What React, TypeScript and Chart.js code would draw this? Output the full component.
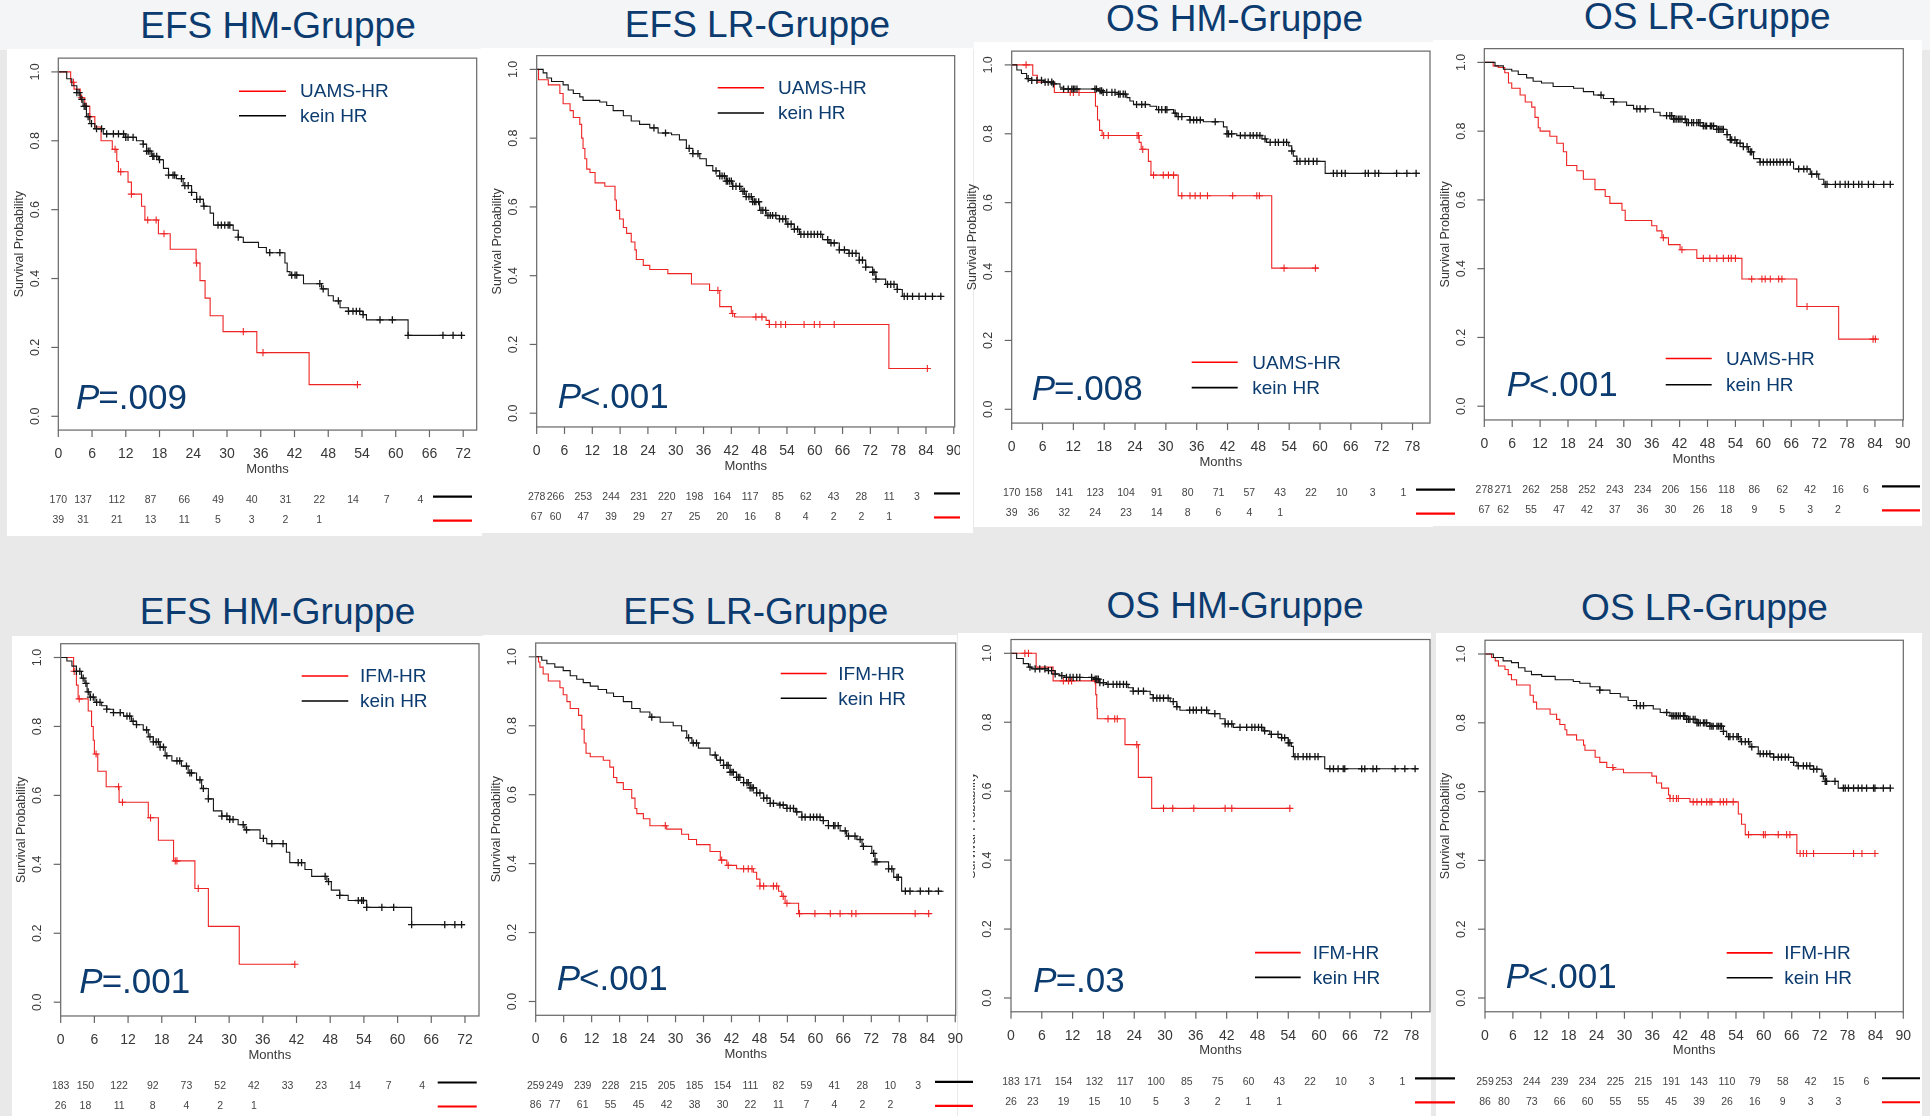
import React, { useEffect, useRef } from "react";
import { Chart, registerables } from "chart.js";
Chart.register(...registerables);

const FONT = '"Liberation Sans", Arial, Helvetica, sans-serif';
const BLUE = "#0b3b6f";
const RED = "#ee2424";
const BLACK = "#141414";

// ---------- shared labels ----------
const titles = ["EFS HM-Gruppe", "EFS LR-Gruppe", "OS HM-Gruppe", "OS LR-Gruppe", "EFS HM-Gruppe", "EFS LR-Gruppe", "OS HM-Gruppe", "OS LR-Gruppe"];
const pLabels = ["=.009", "<.001", "=.008", "<.001", "=.001", "<.001", "=.03", "<.001"];
const hrLabels = ["UAMS-HR", "UAMS-HR", "UAMS-HR", "UAMS-HR", "IFM-HR", "IFM-HR", "IFM-HR", "IFM-HR"];
const noHrLabel = "kein HR";
const xAxisTitle = "Months";
const yAxisTitle = "Survival Probability";
const yTicks = [0, 0.2, 0.4, 0.6, 0.8, 1.0];
const yTickLabels = ["0.0", "0.2", "0.4", "0.6", "0.8", "1.0"];
const xTicks72 = [0, 6, 12, 18, 24, 30, 36, 42, 48, 54, 60, 66, 72];
const xTicks78 = [0, 6, 12, 18, 24, 30, 36, 42, 48, 54, 60, 66, 72, 78];
const xTicks90 = [0, 6, 12, 18, 24, 30, 36, 42, 48, 54, 60, 66, 72, 78, 84, 90];

// ---------- Panel 1: EFS HM, UAMS ----------
const p1RedT = [0, 2.2, 2.8, 3.9, 4.7, 5.6, 6.5, 7.6, 9.6, 10.4, 10.7, 12.4, 13.0, 14.8, 15.4, 17.8, 19.9, 24.5, 25.2, 26.1, 27.0, 29.3, 35.3, 44.6, 53.2];
const p1RedS = [1, 0.97, 0.95, 0.925, 0.9, 0.87, 0.84, 0.8, 0.775, 0.74, 0.71, 0.68, 0.645, 0.61, 0.57, 0.53, 0.485, 0.445, 0.394, 0.343, 0.292, 0.246, 0.185, 0.092, 0.092];
const p1RedC = [2.7, 4.1, 5.0, 5.6, 10.1, 11.1, 13.0, 15.9, 17.4, 18.8, 24.6, 32.9, 36.4, 53.2];
const p1BlackT = [0, 1.5, 2.4, 3.3, 3.9, 4.4, 5.0, 5.6, 6.5, 8.0, 11.9, 13.9, 15.1, 15.7, 16.6, 17.8, 18.7, 19.6, 21.0, 22.2, 23.7, 24.6, 25.8, 27.0, 27.6, 31.1, 32.0, 32.9, 35.6, 37.0, 40.3, 40.7, 41.2, 43.6, 46.8, 48.0, 48.9, 50.1, 51.6, 54.2, 54.8, 62.2, 72.0];
const p1BlackS = [1, 0.98, 0.96, 0.94, 0.92, 0.9, 0.87, 0.85, 0.835, 0.82, 0.81, 0.8, 0.79, 0.77, 0.755, 0.745, 0.72, 0.7, 0.69, 0.67, 0.65, 0.63, 0.61, 0.59, 0.555, 0.54, 0.52, 0.505, 0.49, 0.475, 0.445, 0.42, 0.41, 0.385, 0.37, 0.35, 0.335, 0.315, 0.305, 0.295, 0.28, 0.235, 0.235];
const p1BlackC = [3.3, 3.7, 4.2, 4.6, 4.9, 5.3, 5.9, 6.8, 7.7, 8.6, 9.8, 10.7, 11.6, 12.0, 12.4, 13.3, 15.1, 15.7, 16.0, 16.3, 16.8, 17.0, 17.5, 18.0, 19.6, 20.4, 20.7, 21.9, 22.5, 23.1, 23.7, 24.6, 25.2, 25.9, 28.4, 29.0, 29.6, 30.2, 30.5, 32.0, 37.6, 39.4, 41.5, 42.1, 42.4, 46.5, 47.1, 49.8, 51.6, 52.4, 53.0, 53.6, 54.2, 57.2, 59.4, 62.2, 68.4, 70.2, 71.7];
const p1RiskBlack = [170, 137, 112, 87, 66, 49, 40, 31, 22, 14, 7, 4];
const p1RiskRed = [39, 31, 21, 13, 11, 5, 3, 2, 1];

// ---------- Panel 2: EFS LR, UAMS ----------
const p2RedT = [0, 0.4, 2.5, 5.0, 5.7, 7.2, 7.9, 9.3, 9.7, 10.0, 10.4, 10.8, 11.5, 12.6, 14.7, 16.9, 17.2, 17.9, 18.7, 19.4, 20.4, 21.2, 21.5, 23.0, 24.4, 28.3, 33.4, 37.3, 39.5, 42.0, 42.7, 49.5, 50.2, 76.0, 84.3];
const p2RedS = [1, 0.97, 0.955, 0.93, 0.9, 0.88, 0.86, 0.84, 0.8, 0.77, 0.74, 0.71, 0.7, 0.67, 0.66, 0.62, 0.59, 0.565, 0.54, 0.523, 0.498, 0.475, 0.447, 0.43, 0.418, 0.406, 0.376, 0.357, 0.31, 0.29, 0.28, 0.27, 0.258, 0.13, 0.13];
const p2RedC = [39.1, 42.3, 47.3, 48.6, 50.2, 51.6, 52.7, 53.7, 57.7, 59.9, 61.1, 64.2, 84.3];
const p2BlackT = [0, 1.4, 2.2, 3.2, 5.7, 6.8, 7.9, 9.3, 10.0, 13.6, 15.1, 16.5, 18.7, 20.4, 22.2, 24.4, 26.2, 29.1, 30.8, 32.3, 33.7, 35.2, 36.6, 38.0, 39.5, 40.9, 42.3, 44.1, 45.2, 46.6, 48.1, 49.5, 52.4, 53.8, 55.6, 56.7, 61.7, 63.1, 65.3, 67.4, 69.6, 71.0, 72.5, 73.2, 75.3, 77.8, 78.9, 87.5];
const p2BlackS = [1, 0.99, 0.975, 0.965, 0.955, 0.94, 0.93, 0.92, 0.91, 0.905, 0.895, 0.88, 0.865, 0.85, 0.84, 0.83, 0.815, 0.81, 0.795, 0.77, 0.755, 0.74, 0.72, 0.705, 0.69, 0.675, 0.66, 0.645, 0.63, 0.615, 0.59, 0.575, 0.565, 0.55, 0.535, 0.52, 0.505, 0.495, 0.475, 0.465, 0.445, 0.425, 0.41, 0.39, 0.375, 0.36, 0.34, 0.34];
const p2BlackC = [25.3, 27.8, 32.9, 33.7, 34.8, 38.7, 39.5, 40.0, 40.5, 40.9, 41.2, 41.6, 42.0, 42.3, 43.0, 43.8, 44.5, 44.8, 45.2, 45.8, 46.3, 46.6, 47.0, 47.3, 47.9, 48.4, 48.8, 49.4, 49.9, 50.4, 50.9, 51.6, 52.4, 53.1, 53.7, 54.2, 54.9, 55.6, 56.3, 57.0, 57.7, 58.5, 59.2, 59.9, 60.6, 61.3, 62.8, 63.5, 64.2, 65.3, 66.4, 67.4, 68.1, 68.9, 69.6, 70.3, 71.0, 72.5, 72.8, 73.2, 75.7, 76.4, 77.1, 77.8, 79.3, 80.0, 81.1, 82.5, 83.9, 85.4, 87.2];
const p2RiskBlack = [278, 266, 253, 244, 231, 220, 198, 164, 117, 85, 62, 43, 28, 11, 3];
const p2RiskRed = [67, 60, 47, 39, 29, 27, 25, 20, 16, 8, 4, 2, 2, 1];

// ---------- Panel 3: OS HM, UAMS ----------
const p3RedT = [0, 4.1, 5.0, 8.3, 16.3, 16.7, 17.1, 17.6, 24.8, 25.2, 26.6, 27.1, 32.4, 50.6, 59.7];
const p3RedS = [1, 0.97, 0.95, 0.92, 0.88, 0.84, 0.81, 0.795, 0.775, 0.755, 0.72, 0.68, 0.62, 0.41, 0.41];
const p3RedC = [2.8, 11.4, 12.0, 13.1, 17.9, 18.8, 24.4, 24.7, 25.5, 27.6, 29.5, 30.5, 31.5, 33.1, 34.7, 35.7, 36.7, 38.1, 43.0, 47.7, 48.2, 53.0, 59.1];
const p3BlackT = [0, 1.0, 1.9, 2.9, 3.9, 6.2, 8.1, 9.4, 10.1, 16.9, 17.8, 20.8, 22.4, 23.0, 23.7, 26.9, 28.2, 31.5, 32.1, 34.7, 37.3, 41.2, 41.9, 43.8, 48.7, 49.6, 53.9, 54.5, 54.8, 55.5, 61.0, 79.4];
const p3BlackS = [1, 0.985, 0.975, 0.96, 0.955, 0.95, 0.945, 0.935, 0.93, 0.925, 0.92, 0.915, 0.905, 0.895, 0.885, 0.88, 0.87, 0.86, 0.85, 0.84, 0.835, 0.82, 0.8, 0.795, 0.785, 0.775, 0.765, 0.75, 0.735, 0.72, 0.685, 0.685];
const p3BlackC = [3.2, 3.9, 4.9, 5.8, 6.5, 7.1, 7.8, 8.1, 10.1, 11.0, 11.7, 12.0, 12.3, 12.7, 16.2, 16.5, 17.2, 17.5, 17.8, 18.5, 19.5, 20.1, 20.8, 21.1, 21.7, 22.1, 24.3, 25.3, 26.0, 28.6, 29.2, 29.9, 30.2, 31.8, 32.4, 33.1, 34.7, 35.4, 36.0, 36.7, 39.6, 41.9, 42.2, 42.8, 44.5, 45.4, 46.4, 47.0, 47.7, 48.3, 49.3, 50.3, 51.3, 51.9, 52.9, 53.5, 54.5, 55.5, 56.1, 57.1, 57.8, 58.7, 59.4, 62.6, 63.3, 64.2, 64.9, 68.8, 69.4, 70.7, 71.4, 74.9, 76.9, 78.7];
const p3RiskBlack = [170, 158, 141, 123, 104, 91, 80, 71, 57, 43, 22, 10, 3, 1];
const p3RiskRed = [39, 36, 32, 24, 23, 14, 8, 6, 4, 1];

// ---------- Panel 4: OS LR, UAMS ----------
const p4RedT = [0, 1.9, 3.0, 4.4, 5.2, 5.9, 7.7, 8.8, 10.2, 10.9, 11.6, 12.0, 14.1, 15.6, 17.0, 17.7, 19.9, 21.3, 23.8, 26.0, 27.0, 29.6, 30.3, 36.0, 37.1, 38.2, 39.6, 42.1, 45.7, 55.4, 67.2, 76.2, 84.4];
const p4RedS = [1, 0.99, 0.985, 0.97, 0.94, 0.925, 0.905, 0.885, 0.87, 0.84, 0.81, 0.8, 0.785, 0.765, 0.74, 0.7, 0.685, 0.66, 0.63, 0.61, 0.59, 0.57, 0.54, 0.525, 0.51, 0.49, 0.47, 0.455, 0.43, 0.37, 0.29, 0.195, 0.195];
const p4RedC = [38.5, 42.5, 47.1, 48.5, 50.0, 51.4, 52.5, 53.1, 54.0, 57.5, 59.7, 60.4, 61.5, 63.3, 64.0, 69.4, 83.6, 84.1];
const p4BlackT = [0, 2.3, 4.1, 5.9, 7.3, 9.1, 10.5, 12.3, 14.8, 19.2, 21.3, 23.5, 25.6, 27.8, 30.6, 32.1, 36.4, 37.8, 40.7, 43.5, 47.1, 50.0, 52.2, 52.9, 54.3, 55.7, 56.8, 57.9, 59.3, 66.5, 70.1, 71.9, 73.0, 87.4];
const p4BlackS = [1, 0.99, 0.98, 0.975, 0.965, 0.955, 0.945, 0.94, 0.93, 0.925, 0.915, 0.905, 0.895, 0.885, 0.875, 0.865, 0.855, 0.845, 0.835, 0.825, 0.815, 0.805, 0.79, 0.775, 0.765, 0.755, 0.74, 0.72, 0.71, 0.69, 0.675, 0.66, 0.645, 0.645];
const p4BlackC = [25.1, 27.8, 32.8, 33.5, 34.6, 39.2, 39.9, 40.3, 40.7, 41.0, 41.4, 41.8, 42.1, 42.5, 43.2, 43.5, 43.9, 44.6, 45.0, 45.7, 46.1, 46.4, 47.1, 47.5, 47.8, 48.6, 48.9, 49.3, 50.0, 50.4, 50.7, 51.1, 51.4, 52.2, 52.9, 53.2, 53.9, 54.3, 55.0, 55.7, 56.5, 57.2, 57.5, 59.3, 60.0, 60.8, 61.5, 62.2, 62.9, 63.6, 64.3, 65.1, 65.8, 67.6, 68.7, 69.4, 70.4, 71.5, 73.3, 73.7, 75.5, 76.5, 77.6, 78.3, 79.4, 80.5, 81.2, 82.6, 83.7, 85.9, 87.3];
const p4RiskBlack = [278, 271, 262, 258, 252, 243, 234, 206, 156, 118, 86, 62, 42, 16, 6];
const p4RiskRed = [67, 62, 55, 47, 42, 37, 36, 30, 26, 18, 9, 5, 3, 2];

// ---------- Panel 5: EFS HM, IFM ----------
const p5RedT = [0, 2.3, 2.8, 3.1, 4.9, 5.5, 5.8, 6.0, 6.6, 8.1, 10.4, 15.6, 17.4, 20.1, 23.9, 26.3, 31.8, 41.7];
const p5RedS = [1, 0.96, 0.92, 0.88, 0.845, 0.8, 0.76, 0.72, 0.67, 0.625, 0.58, 0.535, 0.47, 0.41, 0.33, 0.22, 0.11, 0.11];
const p5RedC = [2.4, 3.3, 6.3, 10.3, 11.0, 16.0, 20.4, 20.7, 24.5, 41.7];
const p5BlackT = [0, 1.1, 2.0, 2.8, 3.7, 4.3, 4.7, 5.2, 6.1, 7.3, 8.2, 9.4, 11.2, 12.6, 13.5, 14.7, 15.6, 16.5, 17.7, 18.6, 19.8, 21.5, 22.7, 24.2, 25.1, 26.3, 27.2, 28.7, 30.1, 31.6, 32.8, 35.5, 36.7, 40.2, 40.8, 43.5, 44.7, 47.4, 48.2, 49.7, 51.2, 54.5, 62.5, 72.0];
const p5BlackS = [1, 0.99, 0.975, 0.96, 0.94, 0.925, 0.9, 0.885, 0.87, 0.86, 0.85, 0.84, 0.83, 0.815, 0.805, 0.79, 0.77, 0.755, 0.74, 0.715, 0.7, 0.685, 0.665, 0.645, 0.62, 0.59, 0.555, 0.54, 0.53, 0.515, 0.5, 0.475, 0.46, 0.435, 0.405, 0.385, 0.365, 0.35, 0.325, 0.31, 0.295, 0.275, 0.225, 0.225];
const p5BlackC = [2.8, 3.4, 4.0, 4.5, 4.9, 5.3, 5.8, 6.4, 7.0, 8.2, 9.4, 10.6, 11.8, 12.3, 12.9, 13.5, 15.3, 15.9, 16.5, 17.0, 17.4, 17.7, 18.3, 18.9, 20.7, 21.2, 22.4, 23.0, 23.3, 24.8, 25.4, 26.3, 28.7, 29.6, 30.1, 30.7, 32.5, 33.1, 36.1, 37.6, 39.6, 42.3, 42.9, 47.1, 47.7, 49.7, 53.0, 53.6, 53.9, 54.5, 57.2, 59.3, 62.5, 68.4, 70.2, 71.4];
const p5RiskBlack = [183, 150, 122, 92, 73, 52, 42, 33, 23, 14, 7, 4];
const p5RiskRed = [26, 18, 11, 8, 4, 2, 1];

// ---------- Panel 6: EFS LR, IFM ----------
const p6RedT = [0, 0.6, 0.9, 1.6, 2.7, 5.2, 5.9, 6.7, 7.4, 9.2, 9.9, 10.4, 10.8, 11.7, 14.5, 15.9, 16.7, 17.4, 18.8, 20.6, 21.3, 21.7, 23.1, 24.5, 28.1, 31.3, 32.8, 34.5, 37.4, 39.6, 41.0, 43.1, 46.7, 47.4, 48.1, 52.1, 52.8, 53.5, 56.4, 84.6];
const p6RedS = [1, 0.985, 0.97, 0.95, 0.93, 0.91, 0.89, 0.87, 0.85, 0.83, 0.79, 0.75, 0.72, 0.71, 0.7, 0.68, 0.65, 0.635, 0.615, 0.59, 0.56, 0.545, 0.53, 0.51, 0.5, 0.485, 0.47, 0.455, 0.435, 0.41, 0.395, 0.385, 0.375, 0.355, 0.335, 0.32, 0.305, 0.285, 0.255, 0.255];
const p6RedC = [27.8, 39.9, 41.3, 44.6, 45.6, 46.4, 48.1, 48.9, 51.0, 51.7, 53.1, 53.9, 56.6, 59.9, 63.2, 65.3, 67.8, 68.7, 81.4, 84.3];
const p6BlackT = [0, 1.3, 2.4, 4.1, 5.9, 7.4, 8.8, 10.2, 11.7, 13.4, 15.2, 16.7, 18.8, 20.6, 22.4, 24.5, 26.7, 29.5, 31.3, 32.4, 33.5, 34.9, 37.4, 38.8, 40.3, 41.7, 43.1, 44.6, 46.0, 47.4, 48.9, 50.3, 52.4, 53.9, 55.7, 57.1, 61.7, 62.8, 65.3, 66.7, 68.9, 70.0, 72.1, 72.8, 75.7, 76.8, 78.5, 87.5];
const p6BlackS = [1, 0.99, 0.98, 0.97, 0.96, 0.945, 0.935, 0.925, 0.915, 0.905, 0.895, 0.885, 0.87, 0.85, 0.84, 0.825, 0.81, 0.8, 0.785, 0.765, 0.75, 0.735, 0.715, 0.7, 0.685, 0.665, 0.65, 0.635, 0.62, 0.605, 0.59, 0.575, 0.57, 0.56, 0.55, 0.535, 0.525, 0.51, 0.495, 0.48, 0.47, 0.45, 0.43, 0.405, 0.385, 0.36, 0.32, 0.32];
const p6BlackC = [24.9, 32.8, 33.8, 34.5, 38.5, 39.6, 40.3, 41.0, 41.3, 41.7, 42.1, 42.4, 43.1, 43.5, 43.8, 44.6, 45.3, 45.6, 46.0, 46.4, 46.7, 47.4, 48.1, 48.9, 49.6, 50.3, 51.0, 52.4, 53.1, 53.9, 54.6, 55.3, 56.0, 57.1, 57.8, 58.9, 59.6, 60.3, 61.0, 61.7, 62.8, 63.9, 64.2, 64.9, 66.4, 67.1, 68.5, 69.6, 70.3, 72.5, 72.8, 73.2, 75.7, 76.4, 77.5, 77.8, 79.3, 80.3, 82.5, 84.3, 86.4];
const p6RiskBlack = [259, 249, 239, 228, 215, 205, 185, 154, 111, 82, 59, 41, 28, 10, 3];
const p6RiskRed = [86, 77, 61, 55, 45, 42, 38, 30, 22, 11, 7, 4, 2, 2];

// ---------- Panel 7: OS HM, IFM ----------
const p7RedT = [0, 4.9, 8.2, 16.5, 16.7, 16.8, 22.2, 24.8, 27.4, 54.6];
const p7RedS = [1, 0.96, 0.92, 0.88, 0.84, 0.81, 0.735, 0.64, 0.55, 0.55];
const p7RedC = [2.7, 3.4, 10.2, 11.2, 11.8, 16.4, 18.9, 20.2, 20.7, 24.5, 29.7, 31.5, 35.6, 41.7, 43.0, 54.3];
const p7BlackT = [0, 1.1, 2.4, 3.4, 4.0, 7.3, 8.6, 9.5, 10.5, 16.0, 17.3, 18.6, 22.8, 23.8, 27.1, 27.7, 31.0, 32.3, 32.9, 38.4, 40.7, 41.7, 43.3, 49.1, 50.4, 52.7, 54.0, 54.6, 55.0, 61.1, 79.3];
const p7BlackS = [1, 0.985, 0.97, 0.96, 0.955, 0.95, 0.94, 0.935, 0.93, 0.925, 0.915, 0.91, 0.9, 0.89, 0.88, 0.87, 0.86, 0.845, 0.835, 0.825, 0.81, 0.795, 0.785, 0.775, 0.765, 0.755, 0.74, 0.73, 0.7, 0.665, 0.665];
const p7BlackC = [3.7, 4.7, 5.6, 6.6, 7.3, 7.9, 8.6, 9.9, 10.8, 11.5, 12.1, 12.8, 13.4, 15.7, 16.4, 16.7, 17.0, 17.3, 18.0, 18.9, 19.9, 20.6, 21.2, 21.9, 22.5, 23.8, 24.8, 25.8, 27.7, 28.4, 29.0, 29.7, 30.6, 31.6, 32.3, 34.8, 35.5, 36.1, 37.1, 38.1, 39.7, 41.7, 42.3, 43.0, 44.6, 45.9, 46.9, 47.5, 48.2, 48.8, 49.4, 50.7, 52.0, 52.7, 53.3, 54.0, 54.3, 55.3, 55.9, 56.9, 57.6, 58.2, 59.2, 59.8, 62.1, 62.8, 63.7, 64.7, 65.0, 68.3, 68.9, 70.5, 71.2, 74.8, 76.7, 78.7];
const p7RiskBlack = [183, 171, 154, 132, 117, 100, 85, 75, 60, 43, 22, 10, 3, 1];
const p7RiskRed = [26, 23, 19, 15, 10, 5, 3, 2, 1, 1];

// ---------- Panel 8: OS LR, IFM ----------
const p8RedT = [0, 1.4, 2.2, 2.9, 4.3, 5.0, 5.7, 6.8, 9.7, 10.4, 11.1, 14.0, 15.4, 16.1, 17.2, 17.6, 19.7, 21.2, 21.5, 23.7, 24.7, 26.2, 27.6, 29.8, 35.9, 36.9, 38.0, 39.5, 39.8, 44.1, 54.5, 55.2, 56.0, 67.1, 84.3];
const p8RedS = [1, 0.99, 0.98, 0.965, 0.955, 0.94, 0.925, 0.91, 0.88, 0.86, 0.84, 0.825, 0.81, 0.795, 0.78, 0.765, 0.75, 0.735, 0.72, 0.7, 0.685, 0.67, 0.665, 0.655, 0.645, 0.625, 0.61, 0.59, 0.58, 0.57, 0.535, 0.505, 0.475, 0.42, 0.42];
const p8RedC = [27.5, 39.8, 40.5, 41.2, 41.6, 44.8, 45.6, 46.6, 47.7, 48.4, 48.8, 50.6, 51.3, 52.0, 53.4, 56.7, 59.9, 60.3, 63.1, 64.9, 65.6, 67.8, 68.5, 69.2, 70.7, 79.3, 81.1, 83.9];
const p8BlackT = [0, 1.8, 3.9, 5.7, 7.2, 8.6, 10.0, 12.2, 15.1, 19.0, 20.4, 22.6, 24.7, 26.9, 29.1, 30.8, 32.6, 36.2, 37.7, 39.8, 43.4, 45.6, 48.4, 51.3, 52.0, 54.9, 57.0, 58.8, 62.1, 66.4, 67.1, 70.7, 72.5, 73.2, 76.0, 87.3];
const p8BlackS = [1, 0.99, 0.98, 0.975, 0.96, 0.95, 0.94, 0.935, 0.925, 0.92, 0.915, 0.905, 0.895, 0.885, 0.875, 0.865, 0.85, 0.84, 0.83, 0.82, 0.81, 0.8, 0.79, 0.775, 0.76, 0.745, 0.73, 0.71, 0.7, 0.685, 0.675, 0.665, 0.645, 0.63, 0.61, 0.61];
const p8BlackC = [24.7, 32.6, 33.4, 34.1, 39.1, 40.2, 40.5, 40.9, 41.2, 41.6, 42.0, 42.7, 43.0, 43.4, 43.8, 44.1, 44.8, 45.2, 45.6, 45.9, 46.3, 47.0, 47.3, 47.7, 48.4, 48.8, 49.1, 49.9, 50.2, 50.6, 50.9, 51.3, 52.4, 52.7, 53.4, 54.2, 54.5, 55.2, 56.0, 56.7, 57.4, 59.2, 59.9, 60.6, 61.3, 62.1, 63.1, 63.8, 64.6, 65.3, 66.4, 67.4, 68.5, 69.2, 69.9, 70.7, 71.4, 72.8, 73.2, 73.5, 75.3, 77.1, 77.5, 78.2, 79.3, 80.3, 81.1, 82.1, 83.6, 83.9, 85.7, 87.2];
const p8RiskBlack = [259, 253, 244, 239, 234, 225, 215, 191, 143, 110, 79, 58, 42, 15, 6];
const p8RiskRed = [86, 80, 73, 66, 60, 55, 55, 45, 39, 26, 16, 9, 3, 3];

// ---------- panel table built from the arrays ----------
type PanelData = {
  redT: number[]; redS: number[]; redC: number[];
  blackT: number[]; blackS: number[]; blackC: number[];
  riskBlack: number[]; riskRed: number[]; xTicks: number[];
  title: string; pLabel: string; hrLabel: string;
};
const rawPanels = [
  [p1RedT, p1RedS, p1RedC, p1BlackT, p1BlackS, p1BlackC, p1RiskBlack, p1RiskRed, xTicks72],
  [p2RedT, p2RedS, p2RedC, p2BlackT, p2BlackS, p2BlackC, p2RiskBlack, p2RiskRed, xTicks90],
  [p3RedT, p3RedS, p3RedC, p3BlackT, p3BlackS, p3BlackC, p3RiskBlack, p3RiskRed, xTicks78],
  [p4RedT, p4RedS, p4RedC, p4BlackT, p4BlackS, p4BlackC, p4RiskBlack, p4RiskRed, xTicks90],
  [p5RedT, p5RedS, p5RedC, p5BlackT, p5BlackS, p5BlackC, p5RiskBlack, p5RiskRed, xTicks72],
  [p6RedT, p6RedS, p6RedC, p6BlackT, p6BlackS, p6BlackC, p6RiskBlack, p6RiskRed, xTicks90],
  [p7RedT, p7RedS, p7RedC, p7BlackT, p7BlackS, p7BlackC, p7RiskBlack, p7RiskRed, xTicks78],
  [p8RedT, p8RedS, p8RedC, p8BlackT, p8BlackS, p8BlackC, p8RiskBlack, p8RiskRed, xTicks90],
];
const panels: PanelData[] = rawPanels.map((r, i) => ({
  redT: r[0], redS: r[1], redC: r[2], blackT: r[3], blackS: r[4], blackC: r[5],
  riskBlack: r[6], riskRed: r[7], xTicks: r[8],
  title: titles[i], pLabel: pLabels[i], hrLabel: hrLabels[i],
}));

// ---------- layout (page pixel positions) ----------
type Lay = {
  left: number; right: number; y1: number; y0: number; xMax: number;
  clipLeft?: number; canvasRight: number;
  title: [number, number]; leg: [number, number, number, number, number];
  p: [number, number]; side: [number, number];
};
const layouts: Lay[] = [
  { left: 58.3, right: 476.7, y1: 71.9, y0: 416.3, xMax: 74.4, canvasRight: 486, title: [278, 38.6], leg: [239, 286, 91.2, 115.7, 300], p: [76, 408.6], side: [433, 472] },
  { left: 536.7, right: 956, y1: 69.4, y0: 413.2, xMax: 90.2, canvasRight: 960, title: [757.5, 36.8], leg: [717.7, 764, 87.7, 113, 778], p: [557.7, 407.6], side: [934, 960] },
  { left: 1011.7, right: 1430, y1: 64.9, y0: 409.3, xMax: 81.4, canvasRight: 1460, title: [1234.5, 31.6], leg: [1191.7, 1237.7, 362.3, 387.6, 1252.3], p: [1031.7, 399.9], side: [1416, 1455] },
  { left: 1484.3, right: 1903.3, y1: 62.4, y0: 406.2, xMax: 90.1, canvasRight: 1922, title: [1707.3, 28.8], leg: [1665.7, 1711.7, 358.5, 384.8, 1726], p: [1506.7, 396.4], side: [1882, 1920] },
  { left: 60.7, right: 479, y1: 657.5, y0: 1002.2, xMax: 74.5, canvasRight: 490, title: [277.5, 623.8], leg: [301.7, 348.3, 676, 701, 360], p: [79.3, 992.6], side: [437.7, 476.7] },
  { left: 535.7, right: 955.7, y1: 656.8, y0: 1001.5, xMax: 90.1, canvasRight: 975, title: [755.8, 623.8], leg: [780.7, 826.7, 673.5, 698.3, 838.3], p: [556.7, 989.8], side: [935, 973] },
  { left: 1011, right: 1430, y1: 653.3, y0: 998, xMax: 81.6, clipLeft: 973, canvasRight: 1460, title: [1235, 618.5], leg: [1255, 1300.7, 952.6, 977.4, 1312.7], p: [1033.3, 991.9], side: [1415, 1455] },
  { left: 1485, right: 1903.3, y1: 654, y0: 998, xMax: 90, canvasRight: 1922, title: [1704.5, 620.3], leg: [1726.7, 1772.7, 952.9, 977.7, 1784.3], p: [1505.7, 988.4], side: [1882, 1920] },
];
const whiteRects: [number, number, number, number][] = [
  [7, 49, 482, 536], [481, 48, 973, 533], [974, 42, 1433, 527], [1433, 40, 1922, 526],
  [12, 636, 483, 1116], [483, 635, 957, 1116], [958, 633, 1431, 1116], [1436, 633, 1922, 1116],
];

function stepAt(T: number[], S: number[], t: number): number {
  let v = S[0];
  for (let i = 0; i < T.length; i++) {
    if (T[i] <= t) v = S[i];
    else break;
  }
  return v;
}

function Panel({ d, l }: { d: PanelData; l: Lay }) {
  const ref = useRef<HTMLCanvasElement>(null);
  const span = l.y0 - l.y1;
  const top = l.y1 - 0.04 * span;
  const bottom = l.y0 + 0.04 * span;
  const cx = Math.floor(l.clipLeft !== undefined ? l.clipLeft : l.left - 62);
  const cy = Math.floor(top - 14);
  const cw = Math.ceil(l.canvasRight - cx);
  const ch = Math.ceil(bottom + 100 - cy);

  useEffect(() => {
    const canvas = ref.current;
    if (!canvas) return;
    const X = (px: number) => px - cx;
    const Y = (py: number) => py - cy;
    const plugin = {
      id: "kmDecor",
      afterDraw(chart: any) {
        const ctx = chart.ctx as CanvasRenderingContext2D;
        const xs = chart.scales.x;
        const ys = chart.scales.y;
        const ca = chart.chartArea;
        ctx.save();
        // frame
        ctx.strokeStyle = "#666";
        ctx.lineWidth = 1.2;
        ctx.strokeRect(ca.left, ca.top, ca.right - ca.left, ca.bottom - ca.top);
        // y axis
        ctx.fillStyle = "#383838";
        ctx.textAlign = "center";
        ctx.textBaseline = "middle";
        ctx.font = `12.5px ${FONT}`;
        yTicks.forEach((v, i) => {
          const py = ys.getPixelForValue(v);
          ctx.beginPath();
          ctx.moveTo(ca.left, py);
          ctx.lineTo(ca.left - 7, py);
          ctx.stroke();
          ctx.save();
          ctx.translate(ca.left - 23, py);
          ctx.rotate(-Math.PI / 2);
          ctx.fillText(yTickLabels[i], 0, 0);
          ctx.restore();
        });
        ctx.save();
        ctx.translate(ca.left - 39, (ys.getPixelForValue(0) + ys.getPixelForValue(1)) / 2);
        ctx.rotate(-Math.PI / 2);
        ctx.font = `12.5px ${FONT}`;
        ctx.fillText(yAxisTitle, 0, 0);
        ctx.restore();
        // x axis
        ctx.font = `14px ${FONT}`;
        d.xTicks.forEach((v) => {
          const px = xs.getPixelForValue(v);
          ctx.beginPath();
          ctx.moveTo(px, ca.bottom);
          ctx.lineTo(px, ca.bottom + 7);
          ctx.stroke();
          ctx.fillText(String(v), px, ca.bottom + 24);
        });
        ctx.font = `13px ${FONT}`;
        ctx.fillText(xAxisTitle, (ca.left + ca.right) / 2, ca.bottom + 39);
        // numbers at risk
        ctx.font = `10.5px ${FONT}`;
        ctx.fillStyle = "#444";
        d.riskBlack.forEach((n, i) => {
          ctx.fillText(String(n), xs.getPixelForValue(d.xTicks[i]) + (i ? -9 : 0), ca.bottom + 70.5);
        });
        d.riskRed.forEach((n, i) => {
          ctx.fillText(String(n), xs.getPixelForValue(d.xTicks[i]) + (i ? -9 : 0), ca.bottom + 90);
        });
        ctx.lineWidth = 2.2;
        ctx.strokeStyle = "#000";
        ctx.beginPath();
        ctx.moveTo(X(l.side[0]), ca.bottom + 66.5);
        ctx.lineTo(X(l.side[1]), ca.bottom + 66.5);
        ctx.stroke();
        ctx.strokeStyle = "#ff0000";
        ctx.beginPath();
        ctx.moveTo(X(l.side[0]), ca.bottom + 90.5);
        ctx.lineTo(X(l.side[1]), ca.bottom + 90.5);
        ctx.stroke();
        // legend
        ctx.lineWidth = 1.6;
        ctx.strokeStyle = "#ff0000";
        ctx.beginPath();
        ctx.moveTo(X(l.leg[0]), Y(l.leg[2]));
        ctx.lineTo(X(l.leg[1]), Y(l.leg[2]));
        ctx.stroke();
        ctx.strokeStyle = "#000";
        ctx.beginPath();
        ctx.moveTo(X(l.leg[0]), Y(l.leg[3]));
        ctx.lineTo(X(l.leg[1]), Y(l.leg[3]));
        ctx.stroke();
        ctx.fillStyle = BLUE;
        ctx.textAlign = "left";
        ctx.font = `19px ${FONT}`;
        ctx.fillText(d.hrLabel, X(l.leg[4]), Y(l.leg[2]) + 1);
        ctx.fillText(noHrLabel, X(l.leg[4]), Y(l.leg[3]) + 1);
        // P value
        ctx.textBaseline = "alphabetic";
        ctx.font = `italic 35px ${FONT}`;
        ctx.fillText("P", X(l.p[0]), Y(l.p[1]));
        const w = ctx.measureText("P").width;
        ctx.font = `35px ${FONT}`;
        ctx.fillText(d.pLabel, X(l.p[0]) + w - 1, Y(l.p[1]));
        ctx.restore();
      },
    };
    const line = (T: number[], S: number[]) => T.map((t, i) => ({ x: t, y: S[i] }));
    const cens = (C: number[], T: number[], S: number[]) => C.map((t) => ({ x: t, y: stepAt(T, S, t) }));
    const chart = new Chart(canvas, {
      type: "line",
      data: {
        datasets: [
          { data: line(d.blackT, d.blackS), borderColor: BLACK, borderWidth: 1.1, stepped: "before", pointRadius: 0, fill: false } as any,
          { data: cens(d.blackC, d.blackT, d.blackS), showLine: false, pointStyle: "cross", pointRadius: 3.6, pointBorderWidth: 1.3, borderColor: BLACK, pointBorderColor: BLACK } as any,
          { data: line(d.redT, d.redS), borderColor: RED, borderWidth: 1.1, stepped: "before", pointRadius: 0, fill: false } as any,
          { data: cens(d.redC, d.redT, d.redS), showLine: false, pointStyle: "cross", pointRadius: 3.6, pointBorderWidth: 1.1, borderColor: RED, pointBorderColor: RED } as any,
        ],
      },
      options: {
        responsive: false,
        animation: false,
        devicePixelRatio: 1,
        events: [],
        layout: {
          padding: {
            left: l.left - cx,
            top: top - cy,
            right: cx + cw - l.right,
            bottom: cy + ch - bottom,
          },
        },
        plugins: { legend: { display: false }, tooltip: { enabled: false }, title: { display: false } },
        scales: {
          x: { type: "linear", min: 0, max: l.xMax, display: false },
          y: { type: "linear", min: -0.04, max: 1.04, display: false },
        },
      } as any,
      plugins: [plugin],
    });
    return () => chart.destroy();
  }, []);

  return (
    <canvas
      ref={ref}
      width={cw}
      height={ch}
      style={{ position: "absolute", left: cx, top: cy, width: cw, height: ch }}
    />
  );
}

export default function App() {
  useEffect(() => {
    document.body.style.margin = "0";
    document.body.style.overflow = "hidden";
  }, []);
  return (
    <div style={{ position: "absolute", left: 0, top: 0, width: 1930, height: 1116, overflow: "hidden", background: "#e9e9e9" }}>
      <div style={{ position: "absolute", left: 0, top: 0, width: 1930, height: 50, background: "#f4f5f7" }} />
      {whiteRects.map((r, i) => (
        <div key={"w" + i} style={{ position: "absolute", left: r[0], top: r[1], width: r[2] - r[0], height: r[3] - r[1], background: "#ffffff" }} />
      ))}
      {panels.map((d, i) => (
        <div
          key={"t" + i}
          style={{
            position: "absolute",
            left: layouts[i].title[0],
            top: layouts[i].title[1] - 31.3,
            transform: "translateX(-50%)",
            fontFamily: FONT,
            fontSize: 37,
            lineHeight: "37px",
            color: BLUE,
            whiteSpace: "nowrap",
          }}
        >
          {d.title}
        </div>
      ))}
      {panels.map((d, i) => (
        <Panel key={"p" + i} d={d} l={layouts[i]} />
      ))}
    </div>
  );
}
